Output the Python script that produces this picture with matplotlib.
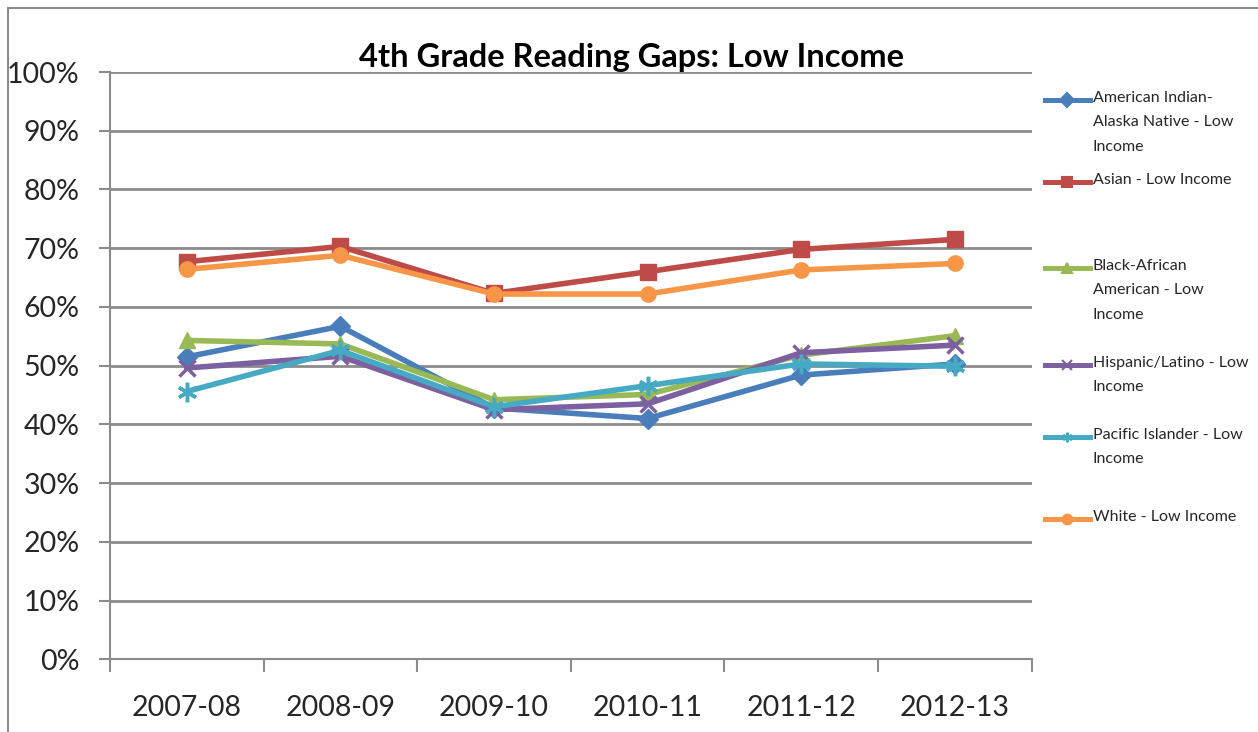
import numpy as np
import matplotlib.pyplot as plt
from matplotlib.lines import Line2D
from matplotlib.patches import Rectangle

# school years and % of low income students reading proficiently
years = ['2007-08', '2008-09', '2009-10', '2010-11', '2011-12', '2012-13']
am_indian = [51.5, 56.7, 42.8, 41.0, 48.4, 50.3]
asian = [67.7, 70.3, 62.3, 66.0, 69.8, 71.5]
black = [54.3, 53.7, 44.2, 45.1, 51.8, 55.1]
hispanic = [49.6, 51.6, 42.5, 43.5, 52.2, 53.5]
pacific = [45.6, 52.6, 43.0, 46.6, 50.3, 49.9]
white = [66.4, 68.8, 62.2, 62.2, 66.3, 67.4]

labels = ['American Indian-\nAlaska Native - Low\nIncome', 'Asian - Low Income',
          'Black-African\nAmerican - Low\nIncome', 'Hispanic/Latino - Low\nIncome',
          'Pacific Islander - Low\nIncome', 'White - Low Income']
series = [am_indian, asian, black, hispanic, pacific, white]
colors = ['#4A7EBB', '#BE4B48', '#98B954', '#7D60A0', '#46AAC5', '#F79646']
markers = ['D', 's', '^', 'x', (6, 2, 0), 'o']
msizes = [10, 11, 11, 11, 14, 11]

plt.rcParams['font.family'] = ['Lato', 'DejaVu Sans']

fig = plt.figure(figsize=(12.58, 7.32), dpi=100)
ax = fig.add_axes([0.0874, 0.0993, 0.7327, 0.8023])

x = np.arange(len(years))
for vals, c, m, ms in zip(series, colors, markers, msizes):
    ax.plot(x, vals, color=c, lw=4, marker=m, ms=ms, mew=2.5 if m in ('x', (6, 2, 0)) else 1,
            mec=c, mfc=c, zorder=3)

ax.set_ylim(0, 100)
ax.set_xlim(-0.5, len(years) - 0.5)
ax.set_yticks(np.arange(0, 101, 10))
ax.set_yticklabels([f'{v}%' for v in range(0, 101, 10)], fontsize=20.5, color='#262626')
ax.set_xticks(x)
ax.set_xticklabels(years, fontsize=20.5, color='#262626')
ax.set_xticks(np.arange(-0.5, len(years)), minor=True)
ax.tick_params(axis='x', which='major', length=0, pad=26)
ax.tick_params(axis='x', which='minor', length=9, width=1.5, color='#8c8c8c')
ax.tick_params(axis='y', length=8, width=1.5, color='#8c8c8c', pad=14)
ax.grid(axis='y', color='#8c8c8c', lw=2)
ax.set_axisbelow(True)
for s in ['top', 'right']:
    ax.spines[s].set_visible(False)
for s in ['left', 'bottom']:
    ax.spines[s].set_color('#8c8c8c')
    ax.spines[s].set_linewidth(1.5)

fig.text(0.5016, 0.909, '4th Grade Reading Gaps: Low Income', ha='center', va='baseline',
         fontsize=23.5, fontweight='bold', color='black')

# legend drawn by hand to keep Excel's uneven spacing
leg_y = [100, 182, 268, 365, 437, 519]
W, H = 1258, 732
for lab, c, m, ly in zip(labels, colors, markers, leg_y):
    fig.add_artist(Line2D([1045 / W, 1090 / W], [1 - ly / H] * 2, color=c, lw=3.6))
    fig.add_artist(Line2D([1067 / W], [1 - ly / H], color=c, marker=m, ms=7, mew=1.5, mec=c, mfc=c))
    fig.text(1093 / W, 1 - (ly - 9) / H, lab, ha='left', va='top', fontsize=11.5,
             linespacing=1.95, color='#262626')

# outer chart frame
fig.add_artist(Rectangle((8 / W, -0.1), 1.5, 1 - 8 / H + 0.1, transform=fig.transFigure,
                         fill=False, ec='#8c8c8c', lw=1.5))

plt.savefig('out.png', dpi=100)
